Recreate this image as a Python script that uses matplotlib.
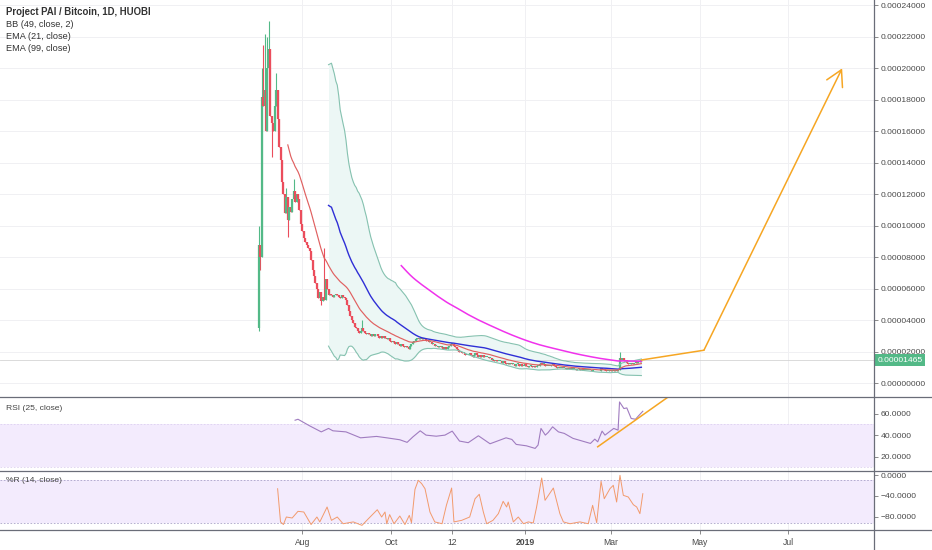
import numpy as np
import pandas as pd
import matplotlib
matplotlib.use("Agg")
import matplotlib.pyplot as plt
import matplotlib.dates as mdates
import matplotlib.transforms as mtransforms
from matplotlib.lines import Line2D

plt.rcParams['font.family'] = ['Liberation Sans', 'DejaVu Sans']

# ---------------- data (prices in 1e-6 BTC) ----------------
start_date = "2018-07-02"
first_open = 35
close_u = [
    88, 80, 182, 176, 186, 160, 200, 212, 170, 165, 160, 176, 186, 168,
    150, 142, 128, 120, 108, 118, 104, 112, 109, 117, 122, 115, 120, 117, 110,
    101, 97, 92, 90, 88, 86, 84, 78, 72, 68, 64, 60, 54, 58, 52, 55, 53, 66, 60, 56,
    57, 56, 55, 56, 57, 56, 55, 54, 56, 55, 54, 53,
    50, 46, 43, 40, 38, 36, 35, 33, 32,
    33, 35, 33, 32, 31, 32, 31, 30, 31, 30, 31,
    31, 30, 29, 30, 29, 30, 29, 28, 29,
    27, 26, 27, 26, 25, 26, 25, 24, 25, 24, 23, 24, 23, 22,
    24, 25, 26, 27, 28, 29, 28,
    29, 28, 29, 28, 27,
    27, 26, 26, 25, 25, 24, 24, 23, 24, 23, 23, 22, 23, 22, 23,
    24, 25, 25,
    24, 23, 22, 21, 20, 20, 19, 19, 18, 18, 18,
    19, 18, 17, 18, 19, 18, 17, 18, 17, 18, 17, 17,
    17, 16, 16, 15, 15, 14, 15, 14, 14,
    14, 13, 14, 13, 12, 13, 12,
    13, 12, 12, 11, 12,
    12, 11, 12, 11, 11, 12, 11, 10.5, 11, 11, 10.5, 11, 10.5, 11, 11,
    12, 13, 12,
    12, 11, 11, 11, 11, 11.5, 12, 11, 10.5,
    10, 10, 9.5, 10, 9.5, 9.5, 9, 9.5, 9, 9.5, 9, 9, 9, 8.5, 9, 9, 8.5, 9, 8.5, 8.5, 8.5, 8.5, 8.5,
    8.5, 8, 8, 7.5, 8, 7.5, 8, 9.5, 9,
    8.5, 8.5, 8, 8, 8.5, 8, 8.5, 8, 8.5, 8, 8.5,
    16,
    15, 16, 14, 15,
    13, 12, 12.5, 13,
    12, 13, 14, 13, 14, 13.5, 14.65,
]
wick_high_day = [0, 2, 3, 4, 6, 7, 12, 19, 24, 45, 71, 248]
wick_high_val = [100, 200, 215, 222, 220, 230, 197, 124, 130, 86, 40, 20]
wick_low_day = [0, 1, 9, 20, 43]
wick_low_val = [33, 72, 144, 93, 50]
last_price_u = 14.65

# RSI (25, close): day offset from start_date, value
rsi_day = [25, 27, 35, 43, 48, 51, 60, 70, 81, 88, 97, 102, 106, 111, 115, 122, 128, 133, 138,
           144, 151, 159, 167, 170, 174, 177, 184, 190, 192, 194, 197, 199, 202, 206, 210, 216,
           228, 231, 233, 236, 238, 244, 247, 248, 251, 253, 256, 259, 261, 264]
rsi_val = [53.8, 54.7, 48.6, 43.0, 46.2, 44.0, 43.0, 37.5, 38.8, 37.5, 35.7, 33.3, 38.4, 44.0,
           40.0, 39.0, 40.0, 43.7, 34.5, 33.0, 39.4, 32.0, 36.0, 37.5, 36.0, 31.4, 30.1, 27.7,
           30.8, 46.2, 40.0, 42.5, 47.7, 43.0, 41.6, 37.0, 32.3, 36.3, 33.8, 43.7, 40.0, 46.2,
           44.6, 70.7, 64.6, 65.2, 55.4, 54.7, 57.8, 62.1]

# %R (14, close)
wr_day = [13, 15, 17, 19, 23, 27, 31, 33, 36, 40, 42, 47, 50, 54, 58, 65, 71, 75, 81.5, 84.5,
          86.8, 88, 90, 93, 97, 100.5, 103.5, 105, 107.4, 109.7, 112, 114.3, 117.7, 121, 126,
          129, 132.6, 134.2, 139.5, 145, 148.7, 151.6, 154.4, 156.7, 161, 164.7, 168, 170.4,
          171.5, 175, 178.4, 182, 185.3, 188.7, 191, 194.5, 196.8, 202.5, 207, 209.4, 214,
          220.8, 226.5, 229.5, 232.3, 235.3, 237.5, 241.4, 243.7, 246, 248.3, 250.6, 254,
          257.5, 259.8, 262, 264]
wr_val = [-26.3, -90, -95, -80.6, -82.5, -69.7, -71, -80.6, -95, -80.6, -90, -61.4, -87, -80.6,
          -93.5, -90, -96.6, -85, -66.6, -80.6, -71, -93.5, -76, -93.5, -78.7, -95, -77.4,
          -91.5, -27.5, -10.2, -16.6, -26.3, -71, -90, -93.5, -58.2, -25, -90, -87, -80.6,
          -45.5, -37, -71, -93.5, -87, -74.2, -50.5, -61.4, -51.8, -90, -80.6, -93.5, -90,
          -92, -61.4, -5.8, -48.6, -25, -74.2, -90, -93.5, -90, -93.5, -58.2, -91.5, -12.1,
          -45.5, -26.3, -19.8, -51.8, -0.6, -39, -42.2, -57, -61.4, -74.2, -35.9]

# hand-drawn projections
arrow_dates = ["2019-03-22", "2019-05-04", "2019-08-07"]
arrow_prices_u = [14.8, 21.0, 200.0]
rsi_trend_dates = ["2019-02-20", "2019-04-18"]
rsi_trend_vals = [29.2, 83.5]

price_ticks_u = [0, 20, 40, 60, 80, 100, 120, 140, 160, 180, 200, 220, 240]
rsi_ticks = [20, 40, 60]
wr_ticks = [0, -40, -80]
rsi_band = (10.8, 50.2)
wr_band = (-91.6, -9.0)
x_tick_dates = ["2018-08-01", "2018-10-01", "2018-11-12", "2019-01-01",
                "2019-03-01", "2019-05-01", "2019-07-01"]
x_tick_labels = ["Aug", "Oct", "12", "2019", "Mar", "May", "Jul"]

# ---------------- derived series ----------------
U = 1e-6
close = np.array(close_u, dtype=float) * U
opens = np.r_[first_open, close_u[:-1]].astype(float) * U
high = np.maximum(opens, close)
low = np.minimum(opens, close)
for d, v in zip(wick_high_day, wick_high_val):
    high[d] = max(high[d], v * U)
for d, v in zip(wick_low_day, wick_low_val):
    low[d] = min(low[d], v * U)

start = pd.Timestamp(start_date)
dates = pd.date_range(start, periods=len(close), freq="D")
xd = mdates.date2num(dates)
x0 = mdates.date2num(start)

s = pd.Series(close)
basis = s.rolling(49).mean().values
dev = s.rolling(49).std(ddof=0).values
upper = basis + 2 * dev
lower = basis - 2 * dev


def ema(vals, n):
    out = np.full(len(vals), np.nan)
    out[n - 1] = np.mean(vals[:n])
    a = 2.0 / (n + 1)
    for i in range(n, len(vals)):
        out[i] = a * vals[i] + (1 - a) * out[i - 1]
    return out


ema21 = ema(close, 21)
ema99 = ema(close, 99)

# ---------------- layout ----------------
W, H = 932, 550
fig = plt.figure(figsize=(W / 100, H / 100), dpi=100)
fig.patch.set_facecolor("white")


def frac(xa, ya, xb, yb):
    return [xa / W, 1 - yb / H, (xb - xa) / W, (yb - ya) / H]


ax = fig.add_axes(frac(0, 0, 874, 397))
ax_r = fig.add_axes(frac(0, 397, 874, 471.3))
ax_w = fig.add_axes(frac(0, 471.3, 874, 530.3))

px_per_day = 1.455
first_px = 258.7
xlim = (x0 - first_px / px_per_day, x0 + (874 - first_px) / px_per_day)
xt = mdates.date2num(pd.to_datetime(x_tick_dates))

GRID = "#f0f0f3"
TXT = "#4a4a4a"
for a in (ax, ax_r, ax_w):
    a.set_xlim(*xlim)
    for sp in a.spines.values():
        sp.set_visible(False)
    a.set_facecolor("white")
    a.set_xticks(xt)
    a.yaxis.tick_right()
    a.tick_params(axis="y", direction="out", length=3, width=0.6, color="#777777",
                  pad=2, labelsize=6.1, labelcolor=TXT)
    for x in xt:
        a.axvline(x, color=GRID, lw=0.7, zorder=0)
ax.tick_params(axis="x", length=0, labelbottom=False)
ax_r.tick_params(axis="x", length=0, labelbottom=False)

# ---------------- main pane ----------------
ax.set_ylim(-8.7 * U, 243.4 * U)
ax.set_yticks([v * U for v in price_ticks_u])
ax.set_yticklabels(["%.8f" % (v * U) for v in price_ticks_u])
for v in price_ticks_u:
    ax.axhline(v * U, color=GRID, lw=0.7, zorder=0)

ax.fill_between(xd, lower, upper, color="#ecf7f5", lw=0, zorder=1)

GREEN, RED = "#53b987", "#eb4d5c"
up = close >= opens
col = np.where(up, GREEN, RED)
ax.vlines(xd, low, high, colors=col, lw=0.8, zorder=2)
bot = np.minimum(opens, close)
top = np.maximum(np.maximum(opens, close), bot + 0.6 * U)
ax.vlines(xd, bot, top, colors=col, lw=1.6, zorder=2)

ax.plot(xd, upper, color="#86c2b0", lw=0.8, zorder=3)
ax.plot(xd, lower, color="#86c2b0", lw=0.8, zorder=3)
ax.plot(xd, basis, color="#2f2fd6", lw=1.0, zorder=3)
ax.plot(xd, ema21, color="#e06060", lw=0.85, zorder=3)
ax.plot(xd, ema99, color="#f032ec", lw=1.1, zorder=3)

ax.axhline(last_price_u * U, color="#d4d4d4", lw=0.6, zorder=1)
blend = mtransforms.blended_transform_factory(ax.transAxes, ax.transData)
ax.text(1.004, last_price_u * U, "0.00001465", transform=blend, ha="left", va="center",
        fontsize=6.1, color="white", clip_on=False, zorder=10,
        bbox=dict(boxstyle="square,pad=0.32", fc="#53b987", ec="none"))

ORANGE = "#f6a623"
ad = mdates.date2num(pd.to_datetime(arrow_dates))
ap = [p * U for p in arrow_prices_u]
ax.plot(ad[:2], ap[:2], color=ORANGE, lw=1.1, zorder=4, solid_capstyle="round")
ax.annotate("", xy=(ad[2], ap[2]), xytext=(ad[1], ap[1]),
            arrowprops=dict(arrowstyle="->,head_length=0.8,head_width=0.45", color=ORANGE,
                            lw=1.1, mutation_scale=14, shrinkA=0, shrinkB=0), zorder=4)

# ---------------- RSI pane ----------------
ax_r.set_ylim(6.5, 75.3)
ax_r.axhspan(rsi_band[0], rsi_band[1], color="#f3ebfd", lw=0, zorder=0.5)
ax_r.axhline(rsi_band[1], color="#ddd0f0", lw=0.6, ls=(0, (2, 2)), zorder=0.6)
ax_r.axhline(rsi_band[0], color="#ddd0f0", lw=0.6, ls=(0, (2, 2)), zorder=0.6)
ax_r.set_yticks(rsi_ticks)
ax_r.set_yticklabels(["%.4f" % v for v in rsi_ticks])
rd = x0 + np.array(rsi_day, dtype=float)
ax_r.plot(rd, rsi_val, color="#a07cc0", lw=0.8, zorder=3)
td = mdates.date2num(pd.to_datetime(rsi_trend_dates))
ax_r.plot(td, rsi_trend_vals, color=ORANGE, lw=1.1, zorder=4)

# ---------------- %R pane ----------------
ax_w.set_ylim(-106.1, 7.1)
ax_w.axhspan(wr_band[0], wr_band[1], color="#f3ebfd", lw=0, zorder=0.5)
ax_w.axhline(wr_band[1], color="#a9a2c9", lw=0.6, ls=(0, (2, 2)), zorder=0.6)
ax_w.axhline(wr_band[0], color="#a9a2c9", lw=0.6, ls=(0, (2, 2)), zorder=0.6)
ax_w.set_yticks(wr_ticks)
ax_w.set_yticklabels([("%.4f" % v).replace("-", "\u2212") for v in wr_ticks])
wd = x0 + np.array(wr_day, dtype=float)
ax_w.plot(wd, wr_val, color="#f29a6c", lw=0.7, zorder=3)
ax_w.set_xticklabels(x_tick_labels)
ax_w.tick_params(axis="x", direction="out", length=3, width=0.6, color="#777777",
                 pad=2.5, labelsize=6.2, labelcolor=TXT)
ax_w.get_xticklabels()[3].set_fontweight("bold")

# ---------------- separators & labels ----------------
SEP = "#6a6d78"
fig.add_artist(Line2D([874 / W, 874 / W], [0, 1], transform=fig.transFigure, color=SEP, lw=0.9))
for yy in (397, 471.3, 530.3):
    fig.add_artist(Line2D([0, 1], [1 - yy / H, 1 - yy / H], transform=fig.transFigure,
                          color=SEP, lw=0.9))

fig.text(6 / W, 1 - 12 / H, "Project PAI / Bitcoin, 1D, HUOBI", fontsize=6.9,
         fontweight="bold", color="#333333", va="center", ha="left")
for i, t in enumerate(["BB (49, close, 2)", "EMA (21, close)", "EMA (99, close)"]):
    fig.text(6 / W, 1 - (24.5 + 12.2 * i) / H, t, fontsize=6.6, color="#333333",
             va="center", ha="left")
fig.text(6 / W, 1 - 409 / H, "RSI (25, close)", fontsize=6.1, color="#444444",
         va="center", ha="left")
fig.text(6 / W, 1 - 481 / H, "%R (14, close)", fontsize=6.1, color="#444444",
         va="center", ha="left")

fig.savefig("out.png", dpi=100, facecolor="white")
